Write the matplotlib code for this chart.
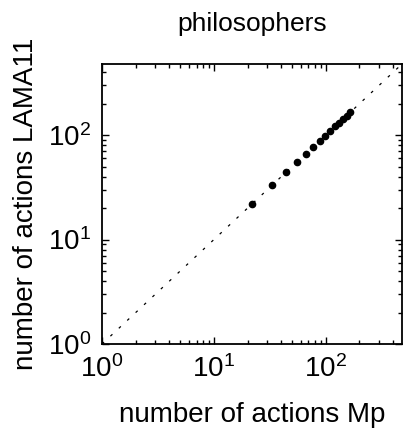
import matplotlib
matplotlib.use("Agg")
import matplotlib.pyplot as plt
import numpy as np

plt.rcParams['font.family'] = ['Liberation Sans', 'DejaVu Sans']

actions_mp = [22, 33, 44, 55, 66, 77, 88, 99, 110, 121, 132, 143, 154, 165]
actions_lama = [22, 33, 44, 55, 66, 77, 88, 99, 110, 121, 132, 143, 154, 165]
lim = [1, 480]

fig = plt.figure(figsize=(4.04, 4.34), dpi=100)
ax = fig.add_axes([102/404, 1-344/434, 300/404, 280/434])
ax.set_xscale('log')
ax.set_yscale('log')
ax.plot(lim, lim, linestyle=(0, (2.2, 7)), color='black', linewidth=0.9)
ax.plot(actions_mp, actions_lama, 'o', color='black', markersize=4.5)
ax.set_xlim(lim)
ax.set_ylim(lim)
ax.set_xticks([1, 10, 100])
ax.set_yticks([1, 10, 100])
ax.tick_params(which='both', direction='in', top=True, right=True, labelsize=20, width=1)
ax.tick_params(which='major', length=5, pad=8)
ax.tick_params(which='minor', length=3)
for s in ax.spines.values():
    s.set_linewidth(1.3)
ax.set_title('philosophers', fontsize=19, pad=24)
ax.set_xlabel('number of actions Mp', fontsize=20, labelpad=14)
ax.set_ylabel('number of actions LAMA11', fontsize=20, labelpad=6)
fig.savefig('out.png', dpi=100)
